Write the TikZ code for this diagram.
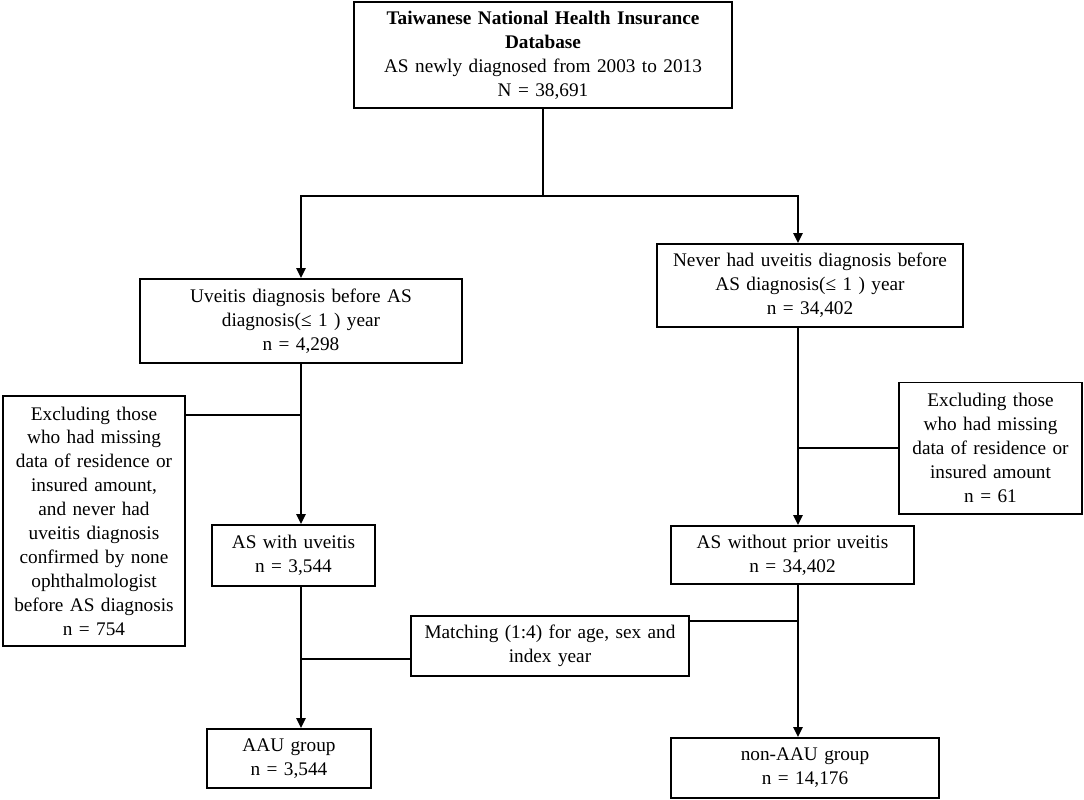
\documentclass[tikz,border=0pt]{standalone}
\usepackage{fontspec}
\setmainfont{Liberation Serif}
\usetikzlibrary{arrows.meta}

\tikzset{
    box/.style={draw, line width=1.4pt, align=center, inner sep=0pt,
        font=\fontsize{13.7}{17}\selectfont},
    link/.style={line width=1.4pt},
    arr/.style={line width=1.4pt, -{Triangle[length=7pt,width=6.5pt]}}
}

\begin{document}
\begin{tikzpicture}[x=0.025cm, y=-0.025cm]
            \useasboundingbox (0,0) rectangle (1084,800);

            % Boxes
            \node[box, text width=9.425cm, minimum height=2.65cm] (db) at (543,55)
                {\textbf{Taiwanese National Health Insurance}\\ \textbf{Database}\\ AS newly diagnosed from 2003 to 2013\\ N = 38,691};
            \node[box, text width=8.05cm, minimum height=2.1cm] (uv) at (301,321)
                {Uveitis diagnosis before AS\\ diagnosis(≤ 1 ) year\\ n = 4,298};
            \node[box, text width=7.65cm, minimum height=2.075cm] (never) at (810,285.5)
                {Never had uveitis diagnosis before\\ AS diagnosis(≤ 1 ) year\\ n = 34,402};
            \node[box, text width=4.55cm, minimum height=6.25cm] (exl) at (94,521)
                {Excluding those\\ who had missing\\ data of residence or\\ insured amount,\\ and never had\\ uveitis diagnosis\\ confirmed by none\\ ophthalmologist\\ before AS diagnosis\\ n = 754};
            \node[box, text width=4.075cm, minimum height=1.525cm] (uvas) at (293.5,555.5)
                {AS with uveitis\\ n = 3,544};
            \node[box, text width=4.575cm, minimum height=3.275cm] (exr) at (990.5,448)
                {Excluding those\\ who had missing\\ data of residence or\\ insured amount\\ n = 61};
            \node[box, text width=6.075cm, minimum height=1.45cm] (noprior) at (792.5,555)
                {AS without prior uveitis\\ n = 34,402};
            \node[box, text width=6.95cm, minimum height=1.5cm] (match) at (550,646)
                {Matching (1:4) for age, sex and\\ index year};
            \node[box, text width=4.1cm, minimum height=1.475cm] (aau) at (289,758.5)
                {AAU group\\ n = 3,544};
            \node[box, text width=6.7cm, minimum height=1.5cm] (nonaau) at (805,768)
                {non-AAU group\\ n = 14,176};

            % Branch points
            \coordinate (split) at (543,196);
            \coordinate (lx) at (301,0);
            \coordinate (rx) at (798,0);
            \coordinate (jl) at (301,415);
            \coordinate (ml) at (301,659);
            \coordinate (mr) at (798,621);

            % Connectors
            \draw[link] (db.south) -- (split);
            \draw[arr] (split) -| (lx |- uv.north);
            \draw[arr] (split) -| (rx |- never.north);
            \draw[arr] (lx |- uv.south) -- (lx |- uvas.north);
            \draw[link] (jl) -- (jl -| exl.east);
            \draw[arr] (rx |- never.south) -- (rx |- noprior.north);
            \draw[link] (exr.west) -- (exr.west -| rx);
            \draw[arr] (lx |- uvas.south) -- (lx |- aau.north);
            \draw[link] (ml) -- (ml -| match.west);
            \draw[arr] (rx |- noprior.south) -- (rx |- nonaau.north);
            \draw[link] (mr) -- (mr -| match.east);
        \end{tikzpicture}
\end{document}
